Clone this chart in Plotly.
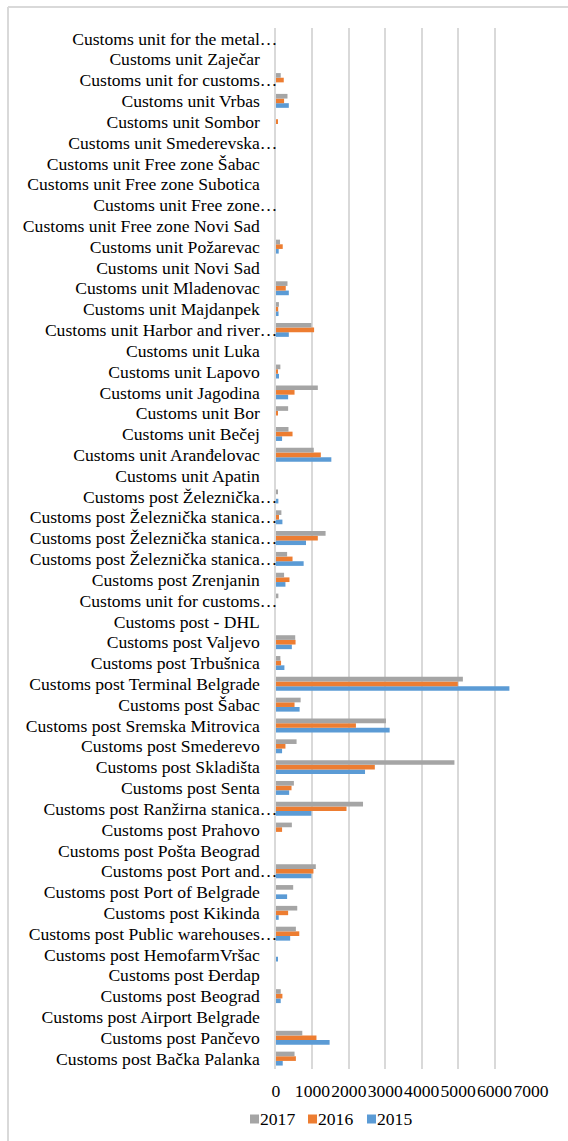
import plotly.graph_objects as go

labels = [
    "Customs post Bačka Palanka",
    "Customs post Pančevo",
    "Customs post Airport Belgrade",
    "Customs post Beograd",
    "Customs post Đerdap",
    "Customs post HemofarmVršac",
    "Customs post Public warehouses…",
    "Customs post Kikinda",
    "Customs post Port of Belgrade",
    "Customs post Port and…",
    "Customs post Pošta Beograd",
    "Customs post Prahovo",
    "Customs post Ranžirna stanica…",
    "Customs post Senta",
    "Customs post Skladišta",
    "Customs post Smederevo",
    "Customs post Sremska Mitrovica",
    "Customs post Šabac",
    "Customs post Terminal Belgrade",
    "Customs post Trbušnica",
    "Customs post Valjevo",
    "Customs post - DHL",
    "Customs unit for customs…",
    "Customs post Zrenjanin",
    "Customs post Železnička stanica…",
    "Customs post Železnička stanica…",
    "Customs post Železnička stanica…",
    "Customs post Železnička…",
    "Customs unit Apatin",
    "Customs unit Aranđelovac",
    "Customs unit Bečej",
    "Customs unit Bor",
    "Customs unit Jagodina",
    "Customs unit Lapovo",
    "Customs unit Luka",
    "Customs unit Harbor and river…",
    "Customs unit Majdanpek",
    "Customs unit Mladenovac",
    "Customs unit Novi Sad",
    "Customs unit Požarevac",
    "Customs unit Free zone Novi Sad",
    "Customs unit Free zone…",
    "Customs unit Free zone Subotica",
    "Customs unit Free zone Šabac",
    "Customs unit Smederevska…",
    "Customs unit Sombor",
    "Customs unit Vrbas",
    "Customs unit for customs…",
    "Customs unit Zaječar",
    "Customs unit for the metal…",
]

v2015 = [185, 1472, 0, 130, 0, 30, 389, 74, 305, 972,
         0, 0, 972, 361, 2444, 167, 3120, 648, 6407, 231,
         435, 0, 0, 259, 759, 824, 176, 65, 0, 1519,
         167, 0, 333, 83, 0, 352, 70, 352, 0, 74,
         0, 0, 0, 0, 0, 0, 352, 0, 0, 0]

v2016 = [546, 1111, 0, 176, 0, 0, 639, 333, 0, 1028,
         0, 167, 1935, 426, 2713, 259, 2194, 509, 4991, 139,
         537, 0, 0, 370, 454, 1148, 83, 0, 0, 1231,
         454, 30, 509, 30, 0, 1046, 60, 268, 0, 185,
         0, 0, 0, 0, 0, 37, 222, 213, 0, 0]

v2017 = [509, 722, 0, 130, 0, 0, 546, 583, 472, 1093,
         0, 435, 2389, 491, 4898, 565, 3019, 676, 5130, 120,
         528, 0, 65, 222, 305, 1361, 148, 30, 0, 1037,
         343, 333, 1148, 120, 0, 972, 80, 315, 0, 111,
         0, 0, 0, 0, 0, 0, 315, 130, 0, 0]

series = [("2015", v2015, "#5b9bd5"), ("2016", v2016, "#ed7d31"), ("2017", v2017, "#a5a5a5")]
x_ticks = [0, 1000, 2000, 3000, 4000, 5000, 6000, 7000]

positions = list(range(len(labels)))
FONT = "Liberation Serif"
FS = 17.6

def pad(lbl):
    return lbl if lbl.endswith("…") else lbl + "\u00a0\u00a0\u00a0\u00a0"

fig = go.Figure()
for name, vals, color in series:
    fig.add_trace(go.Bar(
        y=positions, x=vals, name=name, orientation="h",
        marker=dict(color=color, line=dict(width=0)),
        showlegend=False,
    ))

fig.update_layout(
    width=568, height=1141,
    margin=dict(l=276, r=37, t=28, b=72),
    paper_bgcolor="white", plot_bgcolor="white",
    barmode="group", bargap=0.33, bargroupgap=0,
    font=dict(family=FONT, size=FS, color="#000000"),
    xaxis=dict(
        range=[0, 7000], tickvals=x_ticks, ticktext=[str(t) for t in x_ticks],
        showgrid=True, gridcolor="#d9d9d9", gridwidth=2,
        zeroline=False, showline=False, ticks="", tickangle=0,
        tickfont=dict(family=FONT, size=FS, color="#000000"),
        ticklabelstandoff=9,
    ),
    yaxis=dict(
        range=[-0.5, len(labels) - 0.5],
        tickvals=positions, ticktext=[pad(l) for l in labels],
        showgrid=False, zeroline=False, ticks="",
        showline=True, linecolor="#d9d9d9", linewidth=2,
        tickfont=dict(family=FONT, size=FS, color="#000000"),
        ticklabelstandoff=-7,
    ),
)

# chart border (left and top edges)
fig.add_shape(type="line", xref="paper", yref="paper",
              x0=(8 - 276) / 255, x1=(8 - 276) / 255, y0=(1141 - 72 - 1141) / 1041, y1=(1041 + 21) / 1041,
              line=dict(color="#d9d9d9", width=2))
fig.add_shape(type="line", xref="paper", yref="paper",
              x0=(8 - 276) / 255, x1=(568 - 276) / 255, y0=(1041 + 21) / 1041, y1=(1041 + 21) / 1041,
              line=dict(color="#d9d9d9", width=2))

# legend (2017, 2016, 2015)
leg_x = [250, 308, 367]
for (name, vals, color), lx in zip(reversed(series), leg_x):
    px0 = (lx - 276) / 255
    px1 = (lx + 9 - 276) / 255
    ymid = (1141 - 72 - 1119) / 1041
    fig.add_shape(type="rect", xref="paper", yref="paper",
                  x0=px0, x1=px1, y0=ymid - 4.5 / 1041, y1=ymid + 4.5 / 1041,
                  fillcolor=color, line=dict(width=0))
    fig.add_annotation(xref="paper", yref="paper", x=(lx + 10 - 276) / 255, y=ymid,
                       text=name, showarrow=False, xanchor="left", yanchor="middle",
                       xshift=-1, borderpad=0,
                       font=dict(family=FONT, size=FS, color="#000000"))

fig.write_html("out.html")
